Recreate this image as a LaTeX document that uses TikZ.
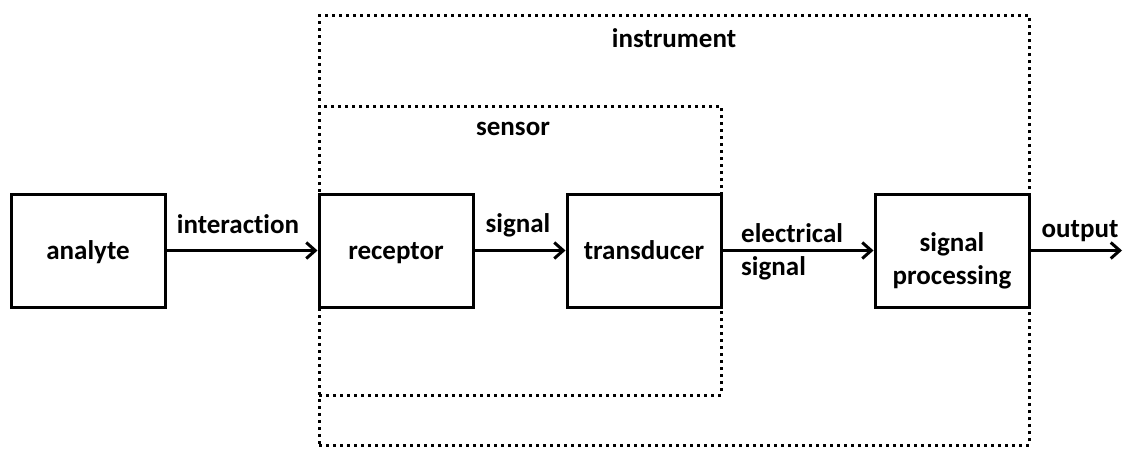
\documentclass[tikz,border=0pt]{standalone}
\usepackage{fontspec}
\setmainfont{Carlito}[Ligatures={NoCommon}]
\usetikzlibrary{arrows.meta}
\tikzset{
  blk/.style={draw, line width=3pt, minimum width=154pt, minimum height=113pt, inner sep=0pt, align=center},
  dotbox/.style={draw, line width=3pt, dash pattern=on 3pt off 4pt, inner sep=0pt},
  lbl/.style={anchor=base, inner sep=0pt, font=\fontsize{27}{33}\selectfont\bfseries},
  conn/.style={line width=3pt, -{Straight Barb[length=9pt,width=16pt]}}
}
\begin{document}
\begin{tikzpicture}[x=1pt,y=-1pt, font=\fontsize{27}{35}\selectfont\bfseries]
\useasboundingbox (0,0) rectangle (1123,448);
% dotted frames
\node[dotbox, minimum width=710pt, minimum height=429.5pt] (instr) at (674,230.5) {};
\node[dotbox, minimum width=402pt, minimum height=289pt] (sens) at (520,250.5) {};
\node[lbl] (instrlbl) at (674,47) {instrument};
\node[lbl] (senslbl) at (513,135) {sensor};
% blocks
\node[blk] (analyte) at (88,250.5) {};
\node[lbl] (analytet) at (88,259) {analyte};
\node[blk] (receptor) at (396,250.5) {};
\node[lbl] (receptort) at (396,259) {receptor};
\node[blk] (transducer) at (644,250.5) {};
\node[lbl] (transducert) at (644,259) {transducer};
\node[blk] (sigproc) at (952,250.5) {};
\node[lbl] (sigproct1) at (952,251) {signal};
\node[lbl] (sigproct2) at (952,284) {processing};
\coordinate (out) at (1122,250.5);
% connectors
\draw[conn] (analyte.east) -- (receptor.west);
\draw[conn] (receptor.east) -- (transducer.west);
\draw[conn] (transducer.east) -- (sigproc.west);
\draw[conn] (sigproc.east) -- (out);
% connector labels
\node[lbl] (l1) at (238,233) {interaction};
\node[lbl] (l2) at (518,232) {signal};
\node[lbl, anchor=base west] (l3) at (741,242) {electrical};
\node[lbl, anchor=base west] (l4) at (741,275) {signal};
\node[lbl] (l5) at (1080,237) {output};
\end{tikzpicture}
\end{document}
